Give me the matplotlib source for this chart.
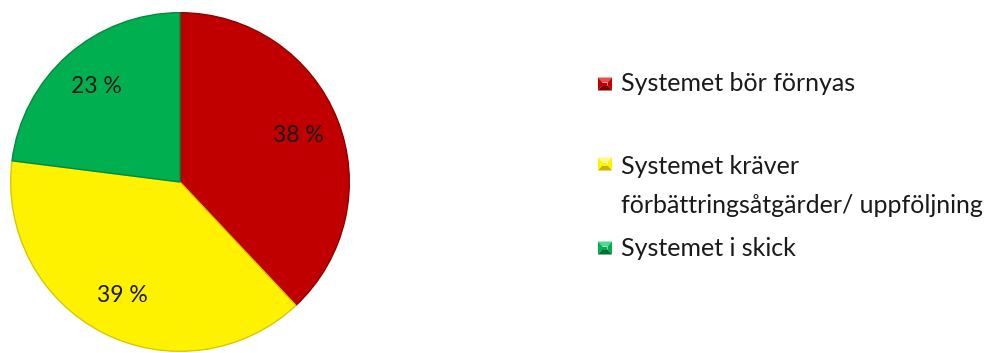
import matplotlib
matplotlib.use("Agg")
import matplotlib.pyplot as plt
from matplotlib.patches import Polygon

categories = ["Systemet bör förnyas",
              "Systemet kräver\nförbättringsåtgärder/ uppföljning",
              "Systemet i skick"]
values = [38, 39, 23]
colors = ["#C00000", "#FFF200", "#00B050"]
edge_colors = ["#8E0000", "#D8C800", "#008A3E"]
light_colors = ["#E85050", "#FFFA90", "#50D890"]
dark_colors = ["#7A0000", "#C8B400", "#006A30"]

W, H = 1003, 353
fig = plt.figure(figsize=(W / 100, H / 100), dpi=100)
fig.patch.set_facecolor("white")
FONT = ["Lato", "DejaVu Sans"]

# pie axes
cx, cy, r = 180, 182, 171
ax = fig.add_axes([(cx - r) / W, (H - cy - r) / H, 2 * r / W, 2 * r / H])
wedges, texts, autotexts = ax.pie(
    values, colors=colors, startangle=90, counterclock=False,
    autopct=lambda p: f"{p:.0f} %", pctdistance=0.75,
    wedgeprops=dict(linewidth=1.0),
    textprops=dict(fontsize=16.5, family=FONT, color="#1a1a1a"))
for w, ec in zip(wedges, edge_colors):
    w.set_edgecolor(ec)
ax.set_xlim(-1.01, 1.01)
ax.set_ylim(-1.01, 1.01)
ax.set_aspect("auto")
ax.axis("off")

# legend
lax = fig.add_axes([0, 0, 1, 1])
lax.set_xlim(0, W)
lax.set_ylim(H, 0)
lax.axis("off")
marker_y = [84, 164, 248]
text_y = [91, 174, 256]
mx, hw, hh = 605, 7, 6.5
for i, lab in enumerate(categories):
    y = marker_y[i]
    x0, x1, y0, y1 = mx - hw, mx + hw, y - hh, y + hh
    ix0, ix1, iy0, iy1 = mx - 2.5, mx + 2.5, y - 1.5, y + 1.5
    # bevel: top, left, right, bottom, center
    lax.add_patch(Polygon([(x0, y0), (x1, y0), (ix1, iy0), (ix0, iy0)], closed=True,
                          facecolor=light_colors[i], edgecolor="none"))
    lax.add_patch(Polygon([(x0, y0), (ix0, iy0), (ix0, iy1), (x0, y1)], closed=True,
                          facecolor=colors[i], edgecolor="none"))
    lax.add_patch(Polygon([(x1, y0), (x1, y1), (ix1, iy1), (ix1, iy0)], closed=True,
                          facecolor=colors[i], edgecolor="none"))
    lax.add_patch(Polygon([(x0, y1), (ix0, iy1), (ix1, iy1), (x1, y1)], closed=True,
                          facecolor=dark_colors[i], edgecolor="none"))
    lax.add_patch(Polygon([(ix0, iy0), (ix1, iy0), (ix1, iy1), (ix0, iy1)], closed=True,
                          facecolor=colors[i], edgecolor="none"))
    lines = lab.split("\n")
    for j, line in enumerate(lines):
        lax.text(621, text_y[i] + 39 * j, line, fontsize=18, family=FONT,
                 color="#1a1a1a", va="baseline", ha="left")

fig.savefig("out.png", dpi=100, facecolor="white")
